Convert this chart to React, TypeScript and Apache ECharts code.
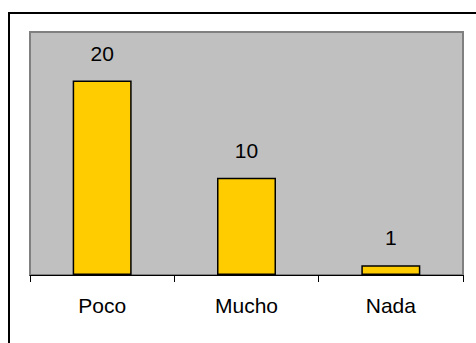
import React, { useEffect, useRef } from "react";
import * as echarts from "echarts";

const categories = ["Poco", "Mucho", "Nada"];
const values = [20, 10, 1];
const yMax = 25;

export default function App() {
  const ref = useRef<HTMLDivElement>(null);
  useEffect(() => {
    document.body.style.margin = "0";
    const chart = echarts.init(ref.current!, null, { renderer: "svg" });
    chart.setOption({
      animation: false,
      backgroundColor: "#ffffff",
      textStyle: { fontFamily: "Liberation Sans, Arial, sans-serif" },
      graphic: [
        {
          type: "rect",
          shape: { x: 9, y: 13, width: 600, height: 500 },
          style: { fill: "none", stroke: "#000000", lineWidth: 2 },
          silent: true,
          z: -10,
        },
      ],
      grid: {
        left: 30,
        right: 13,
        top: 32,
        bottom: 68,
        show: true,
        backgroundColor: "#c0c0c0",
        borderColor: "#808080",
        borderWidth: 2,
      },
      xAxis: {
        type: "category",
        data: categories,
        axisLine: { lineStyle: { color: "#000000", width: 1 } },
        axisTick: { show: true, length: 7, lineStyle: { color: "#000000" } },
        axisLabel: {
          color: "#000000",
          fontSize: 21,
          margin: 20,
          fontFamily: "Liberation Sans, Arial, sans-serif",
        },
      },
      yAxis: {
        type: "value",
        min: 0,
        max: yMax,
        show: false,
        splitLine: { show: false },
      },
      series: [
        {
          type: "bar",
          data: values,
          barWidth: 59,
          itemStyle: { color: "#ffcc00", borderColor: "#000000", borderWidth: 1.5 },
          label: {
            show: true,
            position: "top",
            distance: 17,
            color: "#000000",
            fontSize: 21,
            fontFamily: "Liberation Sans, Arial, sans-serif",
          },
        },
      ],
    });
    return () => chart.dispose();
  }, []);
  return (
    <div
      ref={ref}
      style={{ position: "absolute", left: 0, top: 0, width: 476, height: 343 }}
    />
  );
}
